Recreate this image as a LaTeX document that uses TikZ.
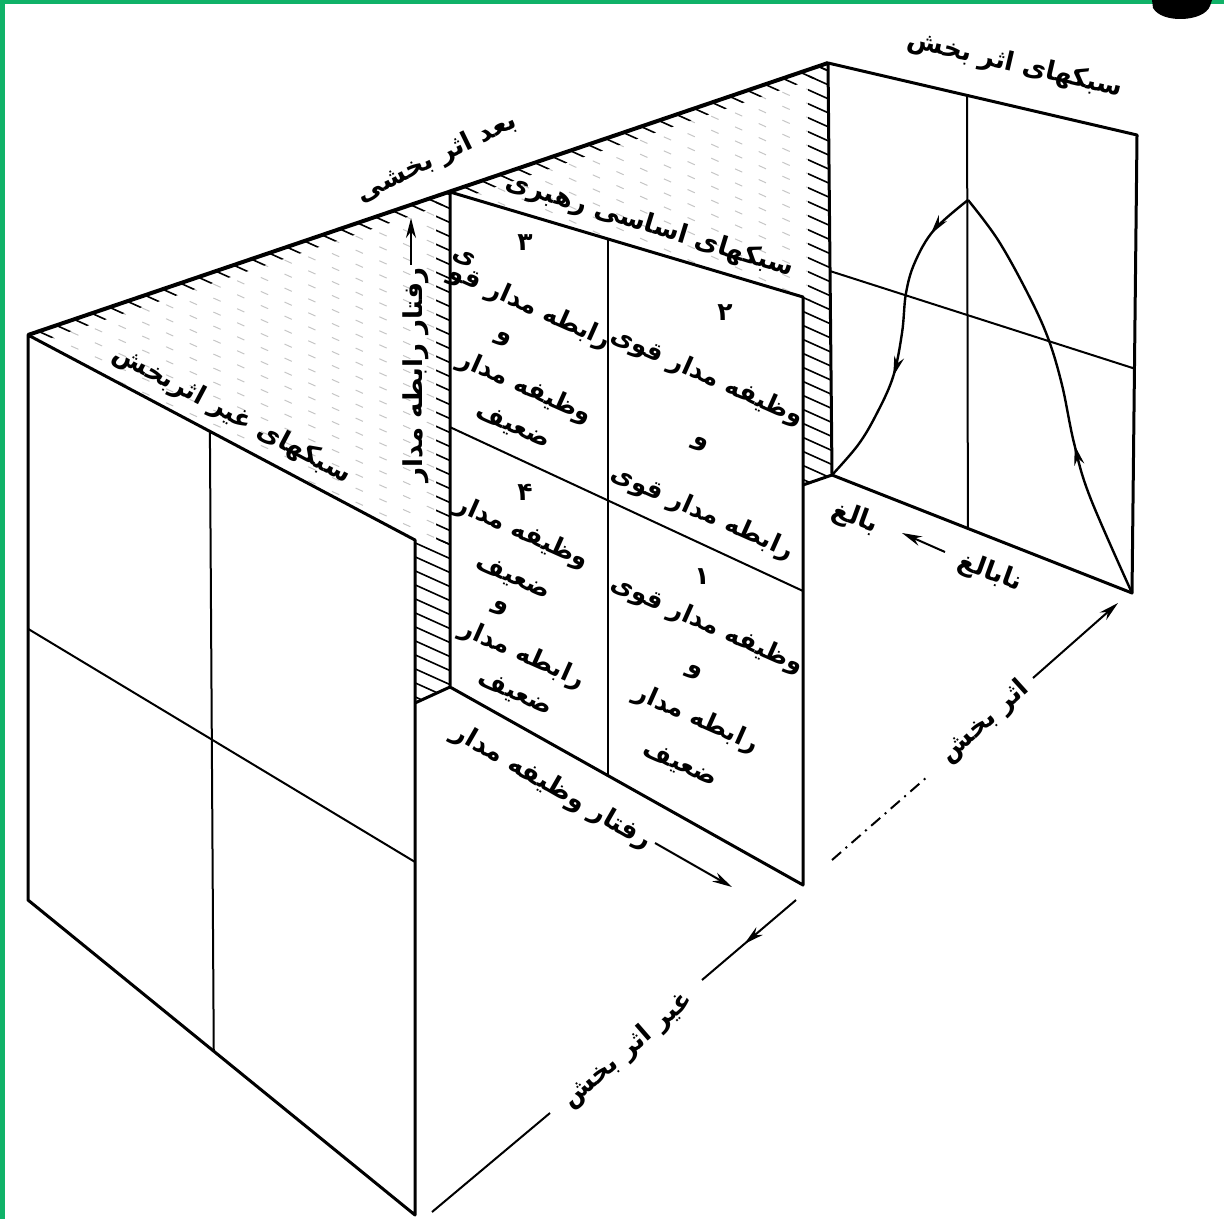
\documentclass[tikz,border=0pt]{standalone}
\usepackage{fontspec}
\newfontfamily\fa[Script=Arabic]{DejaVu Sans}
\TeXXeTstate=1
\usetikzlibrary{arrows.meta, calc, decorations.markings}
\newcommand{\fatext}[1]{\beginR#1\endR}
\newcommand{\hatchset}[1]{\foreach \c in {-330,-316,...,510} \draw[#1] (0,\c) -- (1224,\c+551);}
\definecolor{framegreen}{RGB}{16,178,104}

\begin{document}
\begin{tikzpicture}[x=0.5pt, y=-0.5pt,
    wall/.style={line width=1.5pt, line join=round},
    grid/.style={line width=1pt},
    ridge/.style={line width=2pt},
    hatchfaint/.style={gray!45, line width=0.5pt, dash pattern=on 4pt off 9pt},
    hatchdark/.style={black, line width=0.8pt},
    lbl/.style={font=\fa\bfseries\fontsize{13}{15}\selectfont, inner sep=0pt},
    cel/.style={font=\fa\bfseries\fontsize{12.5}{14}\selectfont, inner sep=0pt},
    arr/.style={-{Stealth[length=10pt, width=5pt]}, line width=1pt},
    axisline/.style={line width=1pt},
    midarrow/.style={postaction=decorate, decoration={markings,
        mark=at position #1 with {\arrow{Stealth[length=10pt, width=5pt]}}}},
    curve/.style={line width=1.2pt},
  ]
  \useasboundingbox (0,0) rectangle (1224,1219);
  % page frame
  \fill[framegreen] (0,0) rectangle (1224,4);
  \fill[framegreen] (0,0) rectangle (5,1219);
  \fill (1152,0) -- (1212,0) -- (1210,6) .. controls (1204,22) and (1162,24) .. (1153,8) -- cycle;

  % corners of the three walls
  \coordinate (LTL) at (28,335);   \coordinate (LTR) at (415,540);
  \coordinate (LBR) at (415,1215); \coordinate (LBL) at (28,900);
  \coordinate (MTL) at (450,192);  \coordinate (MTR) at (803,297);
  \coordinate (MBR) at (803,885);  \coordinate (MBL) at (450,687);
  \coordinate (RTL) at (828,63);   \coordinate (RTR) at (1137,135);
  \coordinate (RBR) at (1132,593); \coordinate (RBL) at (832,475);
  \coordinate (LSB) at (415,703);  \coordinate (RSB) at (803,485);

  % hatched ceiling and gaps
  \begin{scope}
    \clip (LTL) -- (RTL) -- (RBL) -- (RSB) -- (MTR) -- (MTL) -- (MBL) -- (LSB) -- (LTR) -- cycle;
    \hatchset{hatchfaint}
    \begin{scope}
      \clip (LTL) -- (RTL) -- (828,74) -- (28,346) -- cycle;
      \hatchset{hatchdark}
    \end{scope}
    \begin{scope}
      \clip (436,180) rectangle (450,545);
      \hatchset{hatchdark}
    \end{scope}
    \begin{scope}
      \clip (415,540) rectangle (450,705);
      \hatchset{hatchdark}
    \end{scope}
    \begin{scope}
      \clip (808,60) rectangle (830,300);
      \hatchset{hatchdark}
    \end{scope}
    \begin{scope}
      \clip (803,297) rectangle (832,490);
      \hatchset{hatchdark}
    \end{scope}
  \end{scope}

  % walls
  \draw[wall] (LTL) -- (LTR) -- (LBR) -- (LBL) -- cycle;
  \draw[wall] (MTL) -- (MTR) -- (MBR) -- (MBL) -- cycle;
  \draw[wall] (RTL) -- (RTR) -- (RBR) -- (RBL) -- cycle;
  \draw[ridge] (LTL) -- (RTL);
  \draw[wall] (LSB) -- (MBL);
  \draw[wall] (RSB) -- (RBL);

  % quadrant lines
  \draw[grid] ($(LTL)!0.47!(LTR)$) -- ($(LBL)!0.48!(LBR)$);
  \draw[grid] ($(LTL)!0.52!(LBL)$) -- ($(LTR)!0.477!(LBR)$);
  \draw[grid] ($(MTL)!0.448!(MTR)$) -- ($(MBL)!0.448!(MBR)$);
  \draw[grid] ($(MTL)!0.475!(MBL)$) -- ($(MTR)!0.5!(MBR)$);
  \draw[grid] ($(RTL)!0.45!(RTR)$) -- ($(RBL)!0.453!(RBR)$);
  \draw[grid] ($(RTL)!0.505!(RBL)$) -- ($(RTR)!0.51!(RBR)$);

  % maturity curve
  \coordinate (peak) at (968,200);
  \draw[curve, midarrow=0.37] plot[smooth, tension=0.6] coordinates
    {(RBR) (1090,497) (1074,443) (1062,385) (1048,338) (1028,294) (998,240) (peak)};
  \draw[curve, postaction=decorate, decoration={markings,
      mark=at position 0.16 with {\arrow{Stealth[length=10pt, width=5pt]}},
      mark=at position 0.63 with {\arrow{Stealth[length=10pt, width=5pt]}}}]
    plot[smooth, tension=0.6] coordinates
    {(peak) (934,230) (915,262) (906,293) (902,333) (893,377) (876,415) (858,445) (RBL)};

  % axes
  \coordinate (G1) at (432,1212); \coordinate (G2) at (550,1113);
  \coordinate (G3) at (702,980);  \coordinate (G4) at (796,900);
  \coordinate (E1) at (832,860);  \coordinate (E2) at (927,777);
  \coordinate (E3) at (1033,678); \coordinate (E4) at (1118,603);
  \coordinate (T1) at (655,843);  \coordinate (T2) at (732,887);
  \coordinate (R1) at (411,265);  \coordinate (R2) at (411,218);
  \coordinate (B1) at (945,552);  \coordinate (B2) at (902,533);
  \draw[axisline] (G1) -- (G2);
  \draw[axisline, midarrow=0.55] (G4) -- (G3);
  \draw[axisline, dash pattern=on 6pt off 3pt on 1pt off 3pt] (E1) -- (E2);
  \draw[arr] (E3) -- (E4);
  \draw[arr] (T1) -- (T2);
  \draw[arr] (R1) -- (R2);
  \draw[arr] (B1) -- (B2);

  % labels
  \node[lbl, rotate=26] (dimlbl) at (437,158) {\fatext{بعد اثر بخشی}};
  \node[lbl, rotate=-13] (efflbl) at (1015,65) {\fatext{سبکهای اثر بخش}};
  \node[lbl, rotate=-17] (baselbl) at (650,226) {\fatext{سبکهای اساسی رهبری}};
  \node[lbl, rotate=-28] (inefflbl) at (232,415) {\fatext{سبکهای غیر اثربخش}};
  \node[lbl, rotate=90] (rellbl) at (416,375) {\fatext{رفتار رابطه مدار}};
  \node[lbl, rotate=-30] (tasklbl) at (552,787) {\fatext{رفتار وظیفه مدار}};
  \node[lbl, rotate=-20] (maturelbl) at (855,518) {\fatext{بالغ}};
  \node[lbl, rotate=-20] (immaturelbl) at (990,573) {\fatext{نابالغ}};
  \node[lbl, rotate=42] (effaxis) at (985,722) {\fatext{اثر بخش}};
  \node[lbl, rotate=41] (ineffaxis) at (628,1050) {\fatext{غیر اثر بخش}};

  % quadrant 2
  \node[cel] (c2n) at (725,313) {\fatext{۲}};
  \node[cel, rotate=-24] (c2a) at (707,377) {\fatext{وظیفه مدار قوی}};
  \node[cel, rotate=-24] (c2b) at (700,445) {\fatext{و}};
  \node[cel, rotate=-24] (c2c) at (702,513) {\fatext{رابطه مدار قوی}};
  % quadrant 1
  \node[cel] (c1n) at (702,577) {\fatext{۱}};
  \node[cel, rotate=-24] (c1a) at (707,625) {\fatext{وظیفه مدار قوی}};
  \node[cel, rotate=-24] (c1b) at (694,673) {\fatext{و}};
  \node[cel, rotate=-24] (c1c) at (696,719) {\fatext{رابطه مدار}};
  \node[cel, rotate=-24] (c1d) at (680,765) {\fatext{ضعیف}};
  % quadrant 3
  \node[cel] (c3n) at (525,243) {\fatext{۳}};
  \node[cel, rotate=-24] (c3y) at (464,258) {\fatext{ی}};
  \node[cel, rotate=-24] (c3a) at (530,307) {\fatext{رابطه مدار قو}};
  \node[cel, rotate=-24] (c3b) at (503,340) {\fatext{و}};
  \node[cel, rotate=-24] (c3c) at (525,388) {\fatext{وظیفه مدار}};
  \node[cel, rotate=-24] (c3d) at (513,427) {\fatext{ضعیف}};
  % quadrant 4
  \node[cel] (c4n) at (525,492) {\fatext{۴}};
  \node[cel, rotate=-24] (c4a) at (522,533) {\fatext{وظیفه مدار}};
  \node[cel, rotate=-24] (c4b) at (513,578) {\fatext{ضعیف}};
  \node[cel, rotate=-24] (c4c) at (500,609) {\fatext{و}};
  \node[cel, rotate=-24] (c4d) at (522,655) {\fatext{رابطه مدار}};
  \node[cel, rotate=-24] (c4e) at (515,694) {\fatext{ضعیف}};
\end{tikzpicture}
\end{document}
